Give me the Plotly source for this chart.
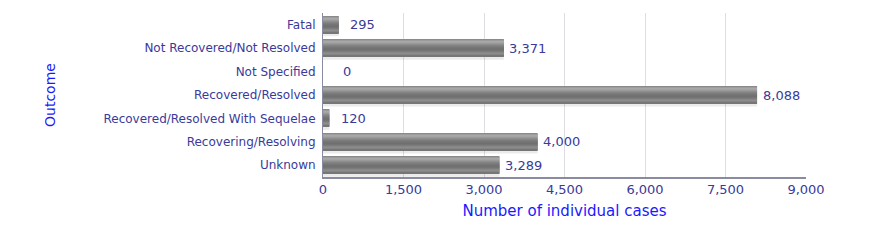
import plotly.graph_objects as go

categories = ["Fatal", "Not Recovered/Not Resolved", "Not Specified", "Recovered/Resolved",
              "Recovered/Resolved With Sequelae", "Recovering/Resolving", "Unknown"]
cases = [295, 3371, 0, 8088, 120, 4000, 3289]
x_ticks = [0, 1500, 3000, 4500, 6000, 7500, 9000]
x_tick_labels = ["0", "1,500", "3,000", "4,500", "6,000", "7,500", "9,000"]

# bar thickness in category units and per-pixel row shading (top -> bottom)
bar_w = 0.727
rows = ["#8a8a8a", "#9c9c9c", "#a8a8a8", "#a4a4a4", "#999999", "#8e8e8e", "#848484",
        "#7c7c7c", "#767676", "#727272", "#707070", "#747474", "#7c7c7c", "#868686",
        "#8c8c8c", "#848484", "#767676"]
n = len(rows)
row_h = bar_w / n

fig = go.Figure()

# soft shadow
fig.add_trace(go.Bar(y=categories, x=cases, orientation="h", width=bar_w,
                     offset=-bar_w / 2 + 3 * row_h,
                     marker=dict(color="rgba(0,0,0,0.08)", line=dict(width=0)),
                     hoverinfo="skip", showlegend=False))

for i, c in enumerate(rows):
    fig.add_trace(go.Bar(y=categories, x=cases, orientation="h", width=row_h * 1.05,
                         offset=-bar_w / 2 + i * row_h,
                         marker=dict(color=c, line=dict(width=0)),
                         hoverinfo="skip", showlegend=False))

label_color = "#3a3a9a"
for cat, v in zip(categories, cases):
    fig.add_annotation(x=v, y=cat, text=f"{v:,}", showarrow=False, xanchor="center",
                       xshift=24, font=dict(family="DejaVu Sans", size=13, color=label_color))

fig.update_layout(
    width=872, height=248,
    margin=dict(l=323, r=66, t=13, b=71),
    barmode="overlay",
    plot_bgcolor="white", paper_bgcolor="white",
    font=dict(family="DejaVu Sans", size=12, color=label_color),
    xaxis=dict(range=[0, 9000], tickvals=x_ticks, ticktext=x_tick_labels,
               showgrid=True, gridcolor="#dddde3", gridwidth=1,
               showline=True, linecolor="#8a8aa0", linewidth=1.5,
               zeroline=False, ticks="", ticklen=0,
               title=dict(text="Number of individual cases", standoff=9,
                          font=dict(family="DejaVu Sans", size=15, color="#1a1aff")),
               tickfont=dict(size=13, color=label_color)),
    yaxis=dict(categoryorder="array", categoryarray=categories, autorange="reversed",
               showgrid=False, showline=True, linecolor="#8a8aa0", linewidth=1,
               zeroline=False, ticks="", ticklabelstandoff=4,
               title=dict(text="Outcome", standoff=44,
                          font=dict(family="DejaVu Sans", size=14, color="#1a1aff")),
               tickfont=dict(size=12, color=label_color)),
)

fig.write_html("out.html")
